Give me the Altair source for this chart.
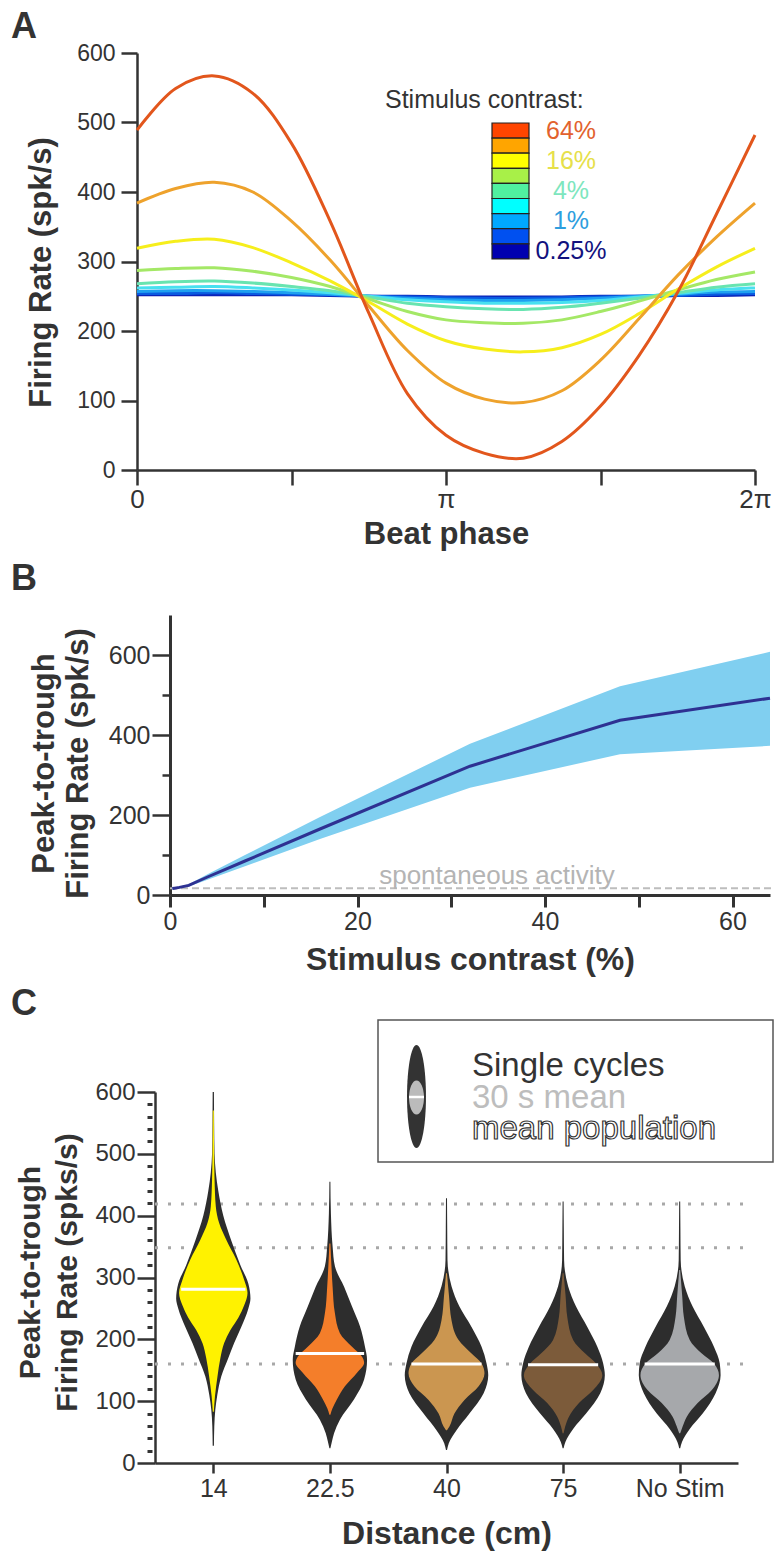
import altair as alt
import pandas as pd

FONT = "Liberation Sans"
DARK = "#333333"

# ---------------- Panel A: firing rate vs beat phase ----------------
PHASE = [0.0, 0.125, 0.25, 0.375, 0.5, 0.625, 0.75, 0.875, 1.0,
         1.125, 1.25, 1.375, 1.5, 1.625, 1.75, 1.875, 2.0]
RATE_025 = [252, 252, 252, 252, 252, 251, 250, 250, 249, 249, 249, 249, 250, 250, 251, 251, 252]
RATE_05 = [254, 254, 255, 254, 253, 252, 250, 249, 248, 247, 247, 248, 249, 250, 251, 253, 254]
RATE_1 = [257, 258, 258, 257, 255, 253, 250, 247, 245, 244, 244, 245, 247, 250, 253, 256, 257]
RATE_2 = [262, 263, 264, 262, 259, 255, 250, 245, 242, 240, 240, 241, 244, 249, 254, 259, 262]
RATE_4 = [268, 271, 272, 269, 264, 258, 249, 240, 235, 232, 231, 234, 240, 247, 255, 263, 268]
RATE_8 = [287, 290, 291, 286, 277, 264, 246, 228, 216, 212, 211, 216, 228, 243, 259, 274, 285]
RATE_16 = [319, 329, 332, 320, 298, 272, 242, 210, 186, 174, 170, 176, 195, 225, 260, 292, 319]
RATE_32 = [384, 405, 414, 400, 358, 302, 236, 172, 125, 102, 97, 114, 158, 218, 280, 335, 384]
RATE_64 = [489, 549, 567, 542, 470, 358, 226, 110, 50, 24, 17, 41, 92, 165, 256, 368, 482]

A_LABELS = ["0.25%", "0.5%", "1%", "2%", "4%", "8%", "16%", "32%", "64%"]
A_RATES = [RATE_025, RATE_05, RATE_1, RATE_2, RATE_4, RATE_8, RATE_16, RATE_32, RATE_64]
A_COLORS = ["#0B22B8", "#0A5BE0", "#1EA0F0", "#48E0F0", "#68E4B0",
            "#A4E866", "#F6EE1C", "#EEA22C", "#E2561C"]

LEG_BOX_COLORS = ["#FF4500", "#FFA500", "#FFFF00", "#A8F048", "#50F0A0",
                  "#00FFFF", "#00A8FF", "#0050F0", "#0000B0"]
LEG_LABELS = ["64%", "16%", "4%", "1%", "0.25%"]
LEG_LABEL_INDEX = [0, 2, 4, 6, 8]
LEG_LABEL_COLORS = ["#E2622E", "#E6E04A", "#7EE6BE", "#2E9EDE", "#12127E"]

# ---------------- Panel B: peak-to-trough vs contrast ----------------
B_CONTRAST = [0.25, 0.5, 1, 2, 4, 8, 16, 32, 48, 64]
B_MEAN = [16, 17, 19, 24, 45, 85, 165, 322, 437, 492]
B_UPPER = [18, 19, 21, 27, 52, 100, 195, 378, 522, 608]
B_LOWER = [14, 15, 17, 21, 38, 72, 140, 268, 352, 373]
SPONT = 17

# ---------------- Panel C: violins ----------------
C_NAMES = ["14", "22.5", "40", "75", "No Stim"]
C_FILLS = ["#FFF200", "#F47E2A", "#CB9650", "#7C5B3A", "#A6A8AB"]
C_MEDIANS = [281, 177, 160, 159, 160]
C_MEDIAN_W = [0.77, 0.82, 0.84, 0.84, 0.84]
C_REF_LEVELS = [419, 348, 160]

V1_OUT_Y = [28, 60, 86, 110, 140, 170, 194, 220, 250, 266, 290, 320, 360, 400, 440, 470, 500, 550, 600]
V1_OUT_W = [0.015, 0.024, 0.048, 0.096, 0.19, 0.36, 0.50, 0.67, 0.84, 0.89, 0.84, 0.65, 0.43, 0.24, 0.12, 0.06, 0.03, 0.02, 0.015]
V1_IN_Y = [83, 108, 140, 170, 194, 215, 235, 255, 275, 296, 329, 361, 388, 415, 458, 500, 570]
V1_IN_W = [0.012, 0.04, 0.1, 0.17, 0.26, 0.41, 0.6, 0.74, 0.82, 0.74, 0.55, 0.31, 0.14, 0.06, 0.03, 0.02, 0.012]

V2_OUT_Y = [24, 35, 48, 70, 103, 135, 167, 188, 221, 253, 285, 318, 350, 404, 455]
V2_OUT_W = [0.012, 0.05, 0.1, 0.24, 0.58, 0.82, 0.89, 0.84, 0.72, 0.53, 0.34, 0.12, 0.065, 0.024, 0.012]
V2_IN_Y = [78, 88, 103, 124, 146, 162, 172, 188, 210, 242, 285, 320, 355]
V2_IN_W = [0.012, 0.06, 0.17, 0.36, 0.65, 0.82, 0.77, 0.53, 0.24, 0.12, 0.065, 0.036, 0.012]

V3_OUT_Y = [21, 32, 53, 80, 113, 142, 161, 188, 220, 253, 286, 328, 380, 428]
V3_OUT_W = [0.012, 0.055, 0.24, 0.55, 0.89, 1.0, 0.96, 0.84, 0.6, 0.31, 0.12, 0.024, 0.017, 0.012]
V3_IN_Y = [53, 59, 80, 102, 124, 145, 161, 177, 199, 231, 270, 307]
V3_IN_W = [0.012, 0.07, 0.19, 0.43, 0.77, 0.91, 0.84, 0.6, 0.29, 0.12, 0.06, 0.012]

V4_OUT_Y = [24, 34, 55, 80, 113, 142, 161, 188, 220, 253, 286, 328, 380, 423]
V4_OUT_W = [0.012, 0.055, 0.24, 0.55, 0.89, 1.0, 0.96, 0.82, 0.58, 0.31, 0.12, 0.024, 0.017, 0.012]
V4_IN_Y = [48, 59, 75, 97, 118, 142, 161, 177, 199, 236, 270, 307]
V4_IN_W = [0.012, 0.05, 0.14, 0.38, 0.72, 0.94, 0.79, 0.53, 0.24, 0.1, 0.06, 0.012]

V5_OUT_Y = [24, 34, 55, 80, 113, 142, 161, 188, 220, 253, 286, 328, 380, 423]
V5_OUT_W = [0.012, 0.055, 0.24, 0.55, 0.86, 0.98, 0.96, 0.82, 0.58, 0.31, 0.12, 0.024, 0.017, 0.012]
V5_IN_Y = [48, 59, 75, 97, 118, 142, 161, 177, 199, 236, 270, 312]
V5_IN_W = [0.012, 0.07, 0.17, 0.43, 0.77, 0.94, 0.82, 0.53, 0.24, 0.1, 0.06, 0.012]

VIOLIN_HALF = 0.358  # x-units for a density of 1

# =====================================================================
def letter(ch, y):
    return alt.Chart(pd.DataFrame({"t": [ch]})).mark_text(
        align="left", baseline="alphabetic", fontSize=36, fontWeight="bold", color=DARK
    ).encode(x=alt.value(11), y=alt.value(y), text="t:N")

# ---------------- Panel A ----------------
XS_A = alt.Scale(domain=[0, 2], range=[137, 755], nice=False, zero=False)
YS_A = alt.Scale(domain=[0, 600], range=[470, 53], nice=False, zero=False)
x_axis_A = alt.Axis(orient="bottom", offset=-1091, values=[0, 0.5, 1, 1.5, 2],
                    labelExpr="datum.value == 0 ? '0' : datum.value == 1 ? 'π' : datum.value == 2 ? '2π' : ''",
                    tickSize=15, labelFontSize=26, labelPadding=1, labelFlush=False, labelOverlap=False,
                    title="Beat phase", titleFontSize=31, titleFontWeight="bold",
                    titleBaseline="alphabetic", titleY=73)
y_axis_A = alt.Axis(orient="left", offset=-137, values=[0, 100, 200, 300, 400, 500, 600],
                    tickSize=16, labelFontSize=23, labelPadding=6, labelOverlap=False,
                    title="Firing Rate (spk/s)", titleFontSize=31, titleFontWeight="bold",
                    titleX=-80, titleY=272)

a_layers = []
for lab, vals, col in zip(A_LABELS, A_RATES, A_COLORS):
    df = pd.DataFrame({"phase": PHASE, "rate": vals, "contrast": lab})
    a_layers.append(
        alt.Chart(df).mark_line(color=col, strokeWidth=3, interpolate="catmull-rom").encode(
            x=alt.X("phase:Q", scale=XS_A, axis=x_axis_A),
            y=alt.Y("rate:Q", scale=YS_A, axis=y_axis_A),
        )
    )

leg_title = alt.Chart(pd.DataFrame({"t": ["Stimulus contrast:"]})).mark_text(
    align="left", baseline="alphabetic", fontSize=25, color=DARK
).encode(x=alt.value(385), y=alt.value(108), text="t:N")

leg_boxes = alt.Chart(pd.DataFrame({"c": LEG_BOX_COLORS, "i": list(range(len(LEG_BOX_COLORS)))})).transform_calculate(
    y0="123 + 15.1 * datum.i", y1="123 + 15.1 * (datum.i + 1)"
).mark_rect(stroke="#222222", strokeWidth=1.2).encode(
    x=alt.value(492), x2=alt.value(529),
    y=alt.Y("y0:Q", scale=None, axis=None), y2="y1:Q",
    fill=alt.Fill("c:N", scale=None),
)

leg_labels = alt.Chart(pd.DataFrame({"lab": LEG_LABELS, "i": LEG_LABEL_INDEX, "col": LEG_LABEL_COLORS})).transform_calculate(
    ty="123 + 15.1 * (datum.i + 0.5)"
).mark_text(align="center", baseline="middle", fontSize=25).encode(
    x=alt.value(571), y=alt.Y("ty:Q", scale=None, axis=None), text="lab:N",
    color=alt.Color("col:N", scale=None),
)

panelA = alt.layer(*a_layers, leg_title, leg_boxes, leg_labels, letter("A", 38))

# ---------------- Panel B ----------------
XS_B = alt.Scale(domain=[0, 64], range=[170, 770], nice=False, zero=False)
YS_B = alt.Scale(domain=[0, 700], range=[895, 615], nice=False, zero=False)
x_axis_B = alt.Axis(orient="bottom", offset=-666, values=[0, 10, 20, 30, 40, 50, 60],
                    labelExpr="datum.value % 20 === 0 ? datum.label : ''",
                    tickSize=12, tickWidth=3, domainWidth=3, labelFontSize=25, labelPadding=2,
                    labelFlush=False, labelOverlap=False,
                    title="Stimulus contrast (%)", titleFontSize=32, titleFontWeight="bold",
                    titleBaseline="alphabetic", titleY=74)
y_axis_B = alt.Axis(orient="left", offset=-170, values=[0, 200, 400, 600],
                    tickSize=18, domainWidth=3, labelFontSize=25, labelPadding=2, labelOverlap=False,
                    title=["Peak-to-trough", "Firing Rate (spk/s)"], titleFontSize=31,
                    titleFontWeight="bold", titleLineHeight=34, titleX=-110, titleY=763)
y_axis_B_minor = alt.Axis(orient="left", offset=-170, values=[100, 300, 500], tickSize=8,
                          domain=False, labels=False, title=None)

dfB = pd.DataFrame({"c": B_CONTRAST, "m": B_MEAN, "lo": B_LOWER, "hi": B_UPPER})

spont_line = alt.Chart(pd.DataFrame({"s": [SPONT]})).mark_rule(
    color="#BDBDBD", strokeWidth=2, strokeDash=[7, 4]
).encode(
    x=alt.X(datum=0, type="quantitative", scale=XS_B, axis=x_axis_B),
    x2=alt.X2(datum=64.5),
    y=alt.Y("s:Q", scale=YS_B, axis=None),
)
band = alt.Chart(dfB).mark_area(color="#80CFF0", opacity=1).encode(
    x=alt.X("c:Q", scale=XS_B, axis=x_axis_B),
    y=alt.Y("lo:Q", scale=YS_B, axis=y_axis_B),
    y2="hi:Q",
)
mean_line = alt.Chart(dfB).mark_line(color="#2E3192", strokeWidth=3).encode(
    x=alt.X("c:Q", scale=XS_B, axis=x_axis_B),
    y=alt.Y("m:Q", scale=YS_B, axis=y_axis_B_minor),
)
spont_text = alt.Chart(pd.DataFrame({"t": ["spontaneous activity"]})).mark_text(
    align="center", baseline="alphabetic", fontSize=26, color="#B4B4B4"
).encode(x=alt.value(497), y=alt.value(884), text="t:N")

panelB = alt.layer(spont_line, band, mean_line, spont_text, letter("B", 590)).resolve_axis(y="independent")

# ---------------- Panel C ----------------
XS_C = alt.Scale(domain=[0.5, 5.5], range=[155, 738], nice=False, zero=False)
YS_C = alt.Scale(domain=[0, 600], range=[1463, 1092], nice=False, zero=False)
x_axis_C = alt.Axis(orient="bottom", offset=-98, values=[1, 2, 3, 4, 5],
                    labelExpr="['14','22.5','40','75','No Stim'][datum.value - 1]",
                    tickSize=10, labelFontSize=25, labelPadding=3, labelFlush=False, labelOverlap=False,
                    title="Distance (cm)", titleFontSize=32, titleFontWeight="bold",
                    titleBaseline="alphabetic", titleY=80)
y_axis_C = alt.Axis(orient="left", offset=-155, values=[0, 100, 200, 300, 400, 500, 600],
                    tickSize=18, labelFontSize=24, labelPadding=2, labelOverlap=False,
                    title=["Peak-to-trough", "Firing Rate (spks/s)"], titleFontSize=30,
                    titleFontWeight="bold", titleLineHeight=37, titleX=-110, titleY=1272)
y_axis_C_minor = alt.Axis(orient="left", offset=-152,
                          values=[20, 40, 60, 80, 120, 140, 160, 180, 220, 240, 260, 280,
                                  320, 340, 360, 380, 420, 440, 460, 480, 520, 540, 560, 580],
                          tickSize=5, tickWidth=3, domain=False, labels=False, title=None)

ref_lines = alt.Chart(pd.DataFrame({"lvl": C_REF_LEVELS})).mark_rule(
    color="#A8A8A8", strokeWidth=3, strokeDash=[3, 10]
).encode(
    x=alt.X(datum=0.5, type="quantitative", scale=XS_C, axis=x_axis_C),
    x2=alt.X2(datum=5.55),
    y=alt.Y("lvl:Q", scale=YS_C, axis=y_axis_C),
)
minor_ticks = alt.Chart(pd.DataFrame({"lvl": C_REF_LEVELS})).mark_rule(opacity=0).encode(
    x=alt.X(datum=0.5, type="quantitative", scale=XS_C, axis=x_axis_C),
    x2=alt.X2(datum=0.6),
    y=alt.Y("lvl:Q", scale=YS_C, axis=y_axis_C_minor),
)

outer_sets = [(V1_OUT_Y, V1_OUT_W), (V2_OUT_Y, V2_OUT_W), (V3_OUT_Y, V3_OUT_W),
              (V4_OUT_Y, V4_OUT_W), (V5_OUT_Y, V5_OUT_W)]
inner_sets = [(V1_IN_Y, V1_IN_W), (V2_IN_Y, V2_IN_W), (V3_IN_Y, V3_IN_W),
              (V4_IN_Y, V4_IN_W), (V5_IN_Y, V5_IN_W)]


def violin_frame(sets):
    rows = []
    for k, (ys, ws) in enumerate(sets):
        pos = k + 1
        for y, w in zip(ys, ws):
            rows.append({"v": C_NAMES[k], "val": y, "xl": pos - w * VIOLIN_HALF,
                         "xr": pos + w * VIOLIN_HALF, "fill": C_FILLS[k]})
    return pd.DataFrame(rows)


outer_df = violin_frame(outer_sets)
inner_df = violin_frame(inner_sets)

outer_v = alt.Chart(outer_df).mark_area(orient="horizontal", color="#2D2D2D", interpolate="monotone").encode(
    x=alt.X("xl:Q", scale=XS_C, axis=x_axis_C, stack=None), x2="xr:Q",
    y=alt.Y("val:Q", scale=YS_C, axis=None), detail="v:N",
)
inner_v = alt.Chart(inner_df).mark_area(orient="horizontal", interpolate="monotone").encode(
    x=alt.X("xl:Q", scale=XS_C, axis=x_axis_C, stack=None), x2="xr:Q",
    y=alt.Y("val:Q", scale=YS_C, axis=None), detail="v:N",
    color=alt.Color("fill:N", scale=None),
)
med_df = pd.DataFrame({"pos": [1, 2, 3, 4, 5], "med": C_MEDIANS, "w": C_MEDIAN_W})
medians = alt.Chart(med_df).transform_calculate(
    x0=f"datum.pos - datum.w * {VIOLIN_HALF}", x1=f"datum.pos + datum.w * {VIOLIN_HALF}"
).mark_rule(color="white", strokeWidth=3).encode(
    x=alt.X("x0:Q", scale=XS_C, axis=x_axis_C), x2="x1:Q",
    y=alt.Y("med:Q", scale=YS_C, axis=None),
)

# legend for panel C
one = pd.DataFrame({"t": [""]})
leg_box = alt.Chart(one).mark_rect(fill="white", stroke="#555555", strokeWidth=1.5).encode(
    x=alt.value(378), x2=alt.value(773), y=alt.value(1020), y2=alt.value(1162)
)


def ellipse_path(rx):
    k = 0.5523
    return (f"M0,-1C{k*rx:.4f},-1 {rx:.4f},{-k:.4f} {rx:.4f},0"
            f"C{rx:.4f},{k:.4f} {k*rx:.4f},1 0,1"
            f"C{-k*rx:.4f},1 {-rx:.4f},{k:.4f} {-rx:.4f},0"
            f"C{-rx:.4f},{-k:.4f} {-k*rx:.4f},-1 0,-1Z")


leg_outer = alt.Chart(one).mark_point(shape=ellipse_path(0.184), filled=True, opacity=1,
                                      size=103 * 103, color="#333333", strokeWidth=0).encode(
    x=alt.value(416.5), y=alt.value(1096.5))
leg_inner = alt.Chart(one).mark_point(shape=ellipse_path(0.44), filled=True, opacity=1,
                                      size=34 * 34, color="#BBBBBB", strokeWidth=0).encode(
    x=alt.value(416.5), y=alt.value(1097.5))
leg_med = alt.Chart(one).mark_rule(color="white", strokeWidth=2.5).encode(
    x=alt.value(409), x2=alt.value(424), y=alt.value(1097))

leg_t1 = alt.Chart(pd.DataFrame({"t": ["Single cycles"]})).mark_text(
    align="left", baseline="alphabetic", fontSize=33, color="#333333"
).encode(x=alt.value(472), y=alt.value(1076), text="t:N")
leg_t2 = alt.Chart(pd.DataFrame({"t": ["30 s mean"]})).mark_text(
    align="left", baseline="alphabetic", fontSize=33, color="#BDBDBD"
).encode(x=alt.value(472), y=alt.value(1108), text="t:N")
leg_t3 = alt.Chart(pd.DataFrame({"t": ["mean population"]})).mark_text(
    align="left", baseline="alphabetic", fontSize=33, fill="white", stroke="#333333", strokeWidth=1.2
).encode(x=alt.value(472), y=alt.value(1139), text="t:N")

panelC = alt.layer(ref_lines, minor_ticks, leg_box, outer_v, inner_v, medians,
                   leg_outer, leg_inner, leg_med, leg_t1, leg_t2, leg_t3,
                   letter("C", 1015)).resolve_axis(y="independent")

chart = alt.layer(panelA, panelB, panelC).resolve_scale(
    x="independent", y="independent"
).resolve_axis(
    x="independent", y="independent"
).properties(
    width=775, height=1561, padding=0, autosize=alt.AutoSizeParams(type="none"), background="white"
).configure_view(strokeWidth=0).configure_axis(
    grid=False, labelFont=FONT, titleFont=FONT, labelColor=DARK, titleColor=DARK,
    domainColor=DARK, tickColor=DARK, domainWidth=2.5, tickWidth=2.5
).configure_text(font=FONT)

chart.save("out.html", embed_options={"renderer": "svg", "actions": False})
